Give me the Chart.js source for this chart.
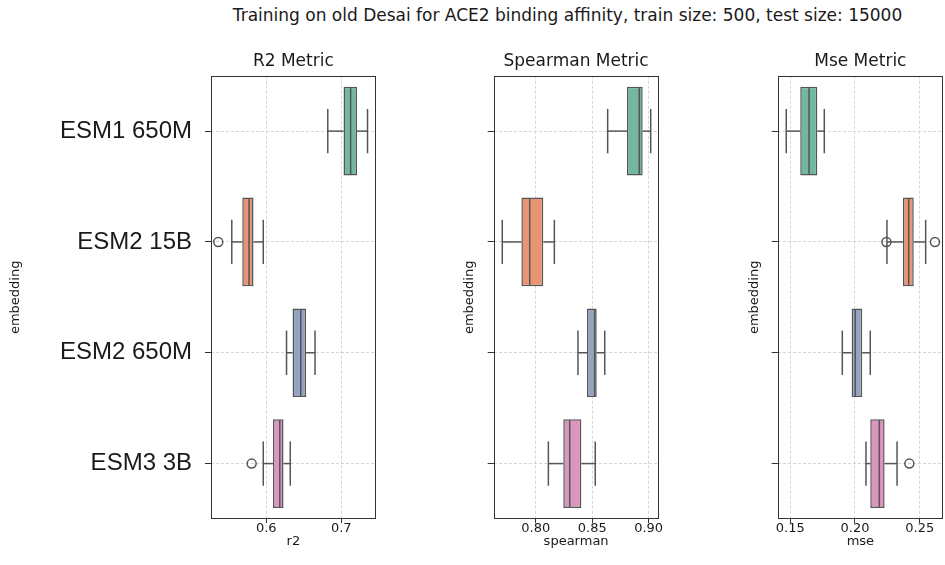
<!DOCTYPE html>
<html><head><meta charset="utf-8">
<script src="https://cdn.jsdelivr.net/npm/chart.js@4.4.1/dist/chart.umd.min.js"></script>
<style>
html,body{margin:0;padding:0;background:#fff;}
#wrap{position:relative;width:945px;height:565px;overflow:hidden;background:#fff;}
canvas{position:absolute;left:0;top:0;}
#title{position:absolute;top:5px;left:567.5px;transform:translateX(-50%);white-space:nowrap;font-family:"DejaVu Sans";font-size:17px;line-height:20px;color:#1a1a1a;}
</style></head><body>
<div id="wrap">
<div id="title">Training on old Desai for ACE2 binding affinity, train size: 500, test size: 15000</div>
<canvas id="c1" width="945" height="565"></canvas>
<canvas id="c2" width="945" height="565"></canvas>
<canvas id="c3" width="945" height="565"></canvas>
</div>
<script>
// ---- data ----
const embeddings = ['ESM1 650M', 'ESM2 15B', 'ESM2 650M', 'ESM3 3B'];

const r2Low      = [0.682, 0.554, 0.627, 0.596];
const r2Q1       = [0.703, 0.568, 0.635, 0.609];
const r2Median   = [0.7125, 0.577, 0.646, 0.618];
const r2Q3       = [0.721, 0.583, 0.653, 0.623];
const r2High     = [0.735, 0.596, 0.665, 0.632];
const r2Outliers = [[], [0.536], [], [0.5805]];
const r2Ticks    = [0.6, 0.7];
const r2TickLabels = ['0.6', '0.7'];

const spLow      = [0.8637, 0.7704, 0.8374, 0.8112];
const spQ1       = [0.8808, 0.7873, 0.8454, 0.8244];
const spMedian   = [0.8917, 0.7947, 0.8522, 0.8301];
const spQ3       = [0.8947, 0.8067, 0.8540, 0.8404];
const spHigh     = [0.9018, 0.8165, 0.8611, 0.8527];
const spOutliers = [[], [], [], []];
const spTicks    = [0.80, 0.85, 0.90];
const spTickLabels = ['0.80', '0.85', '0.90'];

const mseLow      = [0.1469, 0.2247, 0.1902, 0.2085];
const mseQ1       = [0.1577, 0.2371, 0.1974, 0.2118];
const mseMedian   = [0.1645, 0.2415, 0.2002, 0.2188];
const mseQ3       = [0.1709, 0.2454, 0.2056, 0.2229];
const mseHigh     = [0.1763, 0.2546, 0.2118, 0.2325];
const mseOutliers = [[], [0.2243, 0.2618], [], [0.242]];
const mseTicks    = [0.15, 0.20, 0.25];
const mseTickLabels = ['0.15', '0.20', '0.25'];

// ---- styling ----
const palette = ['rgb(113,183,161)', 'rgb(233,149,117)', 'rgb(149,163,195)', 'rgb(219,150,192)'];
const LINE = '#555555';
const TEXT = '#1a1a1a';
const AREA_BOTTOM = 519, XH = 40;

function boxPlugin(d) {
  return {
    id: 'boxes_' + d.id,
    afterDatasetsDraw(chart) {
      const {ctx, scales: {x, y}, chartArea} = chart;
      const meta = chart.getDatasetMeta(0);
      ctx.save();
      ctx.strokeStyle = LINE;
      ctx.lineWidth = 1.5;
      const seg = (x1, y1, x2, y2) => { ctx.beginPath(); ctx.moveTo(x1, y1); ctx.lineTo(x2, y2); ctx.stroke(); };
      embeddings.forEach((e, i) => {
        const yc = y.getPixelForValue(i);
        const h = meta.data[i].height;
        const cap = h / 4;
        const xl = x.getPixelForValue(d.low[i]);
        const xq1 = x.getPixelForValue(d.q1[i]);
        const xm = x.getPixelForValue(d.median[i]);
        const xq3 = x.getPixelForValue(d.q3[i]);
        const xh = x.getPixelForValue(d.high[i]);
        seg(xl, yc, xq1, yc);
        seg(xq3, yc, xh, yc);
        seg(xl, yc - cap, xl, yc + cap);
        seg(xh, yc - cap, xh, yc + cap);
        seg(xm, yc - h / 2 + 0.75, xm, yc + h / 2 - 0.75);
        d.outliers[i].forEach(v => {
          ctx.beginPath();
          ctx.arc(x.getPixelForValue(v), yc, 4.5, 0, Math.PI * 2);
          ctx.stroke();
        });
      });
      ctx.lineWidth = 1;
      ctx.strokeStyle = '#333333';
      const l = Math.round(chartArea.left) + 0.5, t = Math.round(chartArea.top) + 0.5;
      const r = Math.round(chartArea.right) - 0.5, b = Math.round(chartArea.bottom) - 0.5;
      ctx.strokeRect(l, t, r - l, b - t);
      ctx.restore();
    }
  };
}

function makePanel(d) {
  return new Chart(document.getElementById(d.id), {
    type: 'bar',
    data: {
      labels: embeddings,
      datasets: [{
        data: d.q1.map((v, i) => [v, d.q3[i]]),
        backgroundColor: palette,
        borderColor: LINE,
        borderWidth: 1.5,
        borderSkipped: false,
        barPercentage: 0.8,
        categoryPercentage: 1
      }]
    },
    options: {
      indexAxis: 'y',
      responsive: false,
      animation: false,
      events: [],
      layout: {padding: {left: d.left - d.yw, right: 945 - d.right, top: 51.3, bottom: 565 - AREA_BOTTOM - XH}},
      plugins: {
        legend: {display: false},
        tooltip: {enabled: false},
        title: {
          display: true, text: d.title, fullSize: false,
          font: {family: 'DejaVu Sans', size: 17, weight: 'normal'},
          color: TEXT, padding: {top: 0, bottom: 4}
        }
      },
      scales: {
        x: {
          type: 'linear', min: d.min, max: d.max,
          afterBuildTicks: s => { s.ticks = d.ticks.map(v => ({value: v})); },
          afterFit: s => { s.height = XH; },
          ticks: {
            callback: (v, i) => d.tickLabels[i],
            font: {family: 'DejaVu Sans', size: 13}, color: TEXT, padding: -2, maxRotation: 0
          },
          grid: {color: '#cccccc', lineWidth: 0.8, tickColor: '#333333', tickLength: 4, tickWidth: 1},
          border: {display: false, dash: [3, 2]},
          title: {display: true, text: d.xlabel, font: {family: 'DejaVu Sans', size: 13}, color: TEXT, padding: {top: 0, bottom: 10}}
        },
        y: {
          type: 'category', offset: true,
          afterFit: s => { s.width = d.yw; },
          ticks: {
            callback: (v, i) => d.showLabels ? embeddings[i] : '',
            font: {family: 'Liberation Sans', size: 24}, color: TEXT, padding: 13
          },
          grid: {offset: false, color: '#cccccc', lineWidth: 0.8, tickColor: '#333333', tickLength: 6, tickWidth: 1},
          border: {display: false, dash: [3, 2]},
          title: {display: true, text: 'embedding', font: {family: 'DejaVu Sans', size: 13}, color: TEXT, padding: {top: d.ytitlePad, bottom: 0}}
        }
      }
    },
    plugins: [boxPlugin(d)]
  });
}

makePanel({id: 'c1', title: 'R2 Metric', xlabel: 'r2', left: 211, right: 375.7, yw: 211, ytitlePad: 8.2,
  min: 0.5263, max: 0.7459, ticks: r2Ticks, tickLabels: r2TickLabels, showLabels: true,
  low: r2Low, q1: r2Q1, median: r2Median, q3: r2Q3, high: r2High, outliers: r2Outliers});
makePanel({id: 'c2', title: 'Spearman Metric', xlabel: 'spearman', left: 493.7, right: 658.5, yw: 35, ytitlePad: 3.5,
  min: 0.7628, max: 0.9087, ticks: spTicks, tickLabels: spTickLabels, showLabels: false,
  low: spLow, q1: spQ1, median: spMedian, q3: spQ3, high: spHigh, outliers: spOutliers});
makePanel({id: 'c3', title: 'Mse Metric', xlabel: 'mse', left: 777.7, right: 943, yw: 35, ytitlePad: 4.5,
  min: 0.1403, max: 0.268, ticks: mseTicks, tickLabels: mseTickLabels, showLabels: false,
  low: mseLow, q1: mseQ1, median: mseMedian, q3: mseQ3, high: mseHigh, outliers: mseOutliers});
</script>
</body></html>
